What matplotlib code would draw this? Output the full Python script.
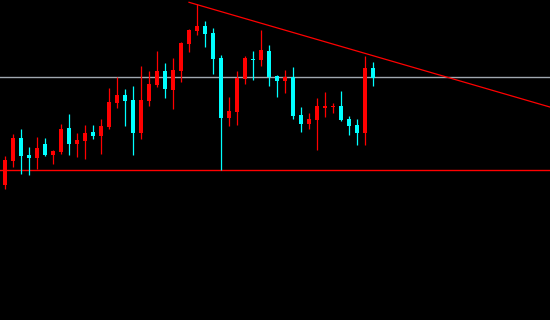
import matplotlib
matplotlib.use("Agg")
import matplotlib.pyplot as plt
import numpy as np

# ---------------------------------------------------------------- data ----
# daily candles (price units)
opens  = [135, 159, 182, 165, 162, 176, 165, 168, 192, 176, 179, 188, 184, 193, 217, 225,
          220, 187, 219, 235, 249, 230, 249, 276, 289, 294, 287, 262, 202, 208, 241, 261,
          260, 269, 244, 239, 243, 205, 196, 200, 212, 213, 214, 201, 195, 187, 252]
highs  = [164, 186, 191, 173, 183, 182, 170, 196, 206, 187, 195, 195, 201, 232, 243, 231,
          234, 254, 249, 269, 257, 262, 278, 291, 316, 299, 292, 265, 223, 249, 264, 269,
          290, 275, 245, 250, 253, 213, 207, 222, 228, 217, 229, 204, 201, 264, 258]
lows   = [131, 153, 146, 145, 151, 164, 156, 166, 165, 163, 161, 181, 166, 191, 212, 194,
          165, 181, 214, 233, 222, 211, 238, 268, 285, 273, 246, 150, 194, 195, 236, 240,
          254, 234, 223, 227, 201, 188, 191, 170, 203, 207, 199, 185, 175, 175, 234]
closes = [160, 182, 164, 162, 172, 165, 169, 191, 176, 180, 187, 184, 194, 218, 225, 219,
          187, 220, 236, 249, 231, 250, 277, 290, 294, 286, 261, 202, 209, 242, 262, 260,
          270, 243, 239, 243, 204, 196, 201, 214, 214, 214, 200, 194, 187, 252, 242]

# drawn lines
resistance_level = 243          # gray horizontal
support_level = 150             # red horizontal
trend_x = [23.0, 68.1]          # red falling trend line
trend_y = [317.7, 213.0]

up_color = "#ff0000"
down_color = "#00ffff"

# ---------------------------------------------------------------- plot ----
fig = plt.figure(figsize=(5.5, 3.2), dpi=100, facecolor="black")
ax = fig.add_axes([0, 0, 1, 1], facecolor="black")

x = np.arange(len(opens))
o = np.array(opens, dtype=float)
c = np.array(closes, dtype=float)
colors = [up_color if cc >= oo else down_color for oo, cc in zip(o, c)]

# wicks
ax.vlines(x, lows, highs, colors=colors, linewidth=0.9, zorder=2)
# bodies (at least 1 px tall for dojis)
bottom = np.minimum(o, c)
height = np.maximum(np.abs(c - o), 1.2)
ax.bar(x, height, bottom=bottom, width=0.62, color=colors, linewidth=0, zorder=3)

ax.axhline(resistance_level, color="#a0a8b0", linewidth=1.0, zorder=1)
ax.axhline(support_level, color="#ff0000", linewidth=1.0, zorder=1)
ax.plot(trend_x, trend_y, color="#ff0000", linewidth=0.9, zorder=4)

ax.set_xlim(-0.625, 68.125)
ax.set_ylim(0, 320)
ax.axis("off")

fig.savefig("out.png", dpi=100, facecolor="black")
